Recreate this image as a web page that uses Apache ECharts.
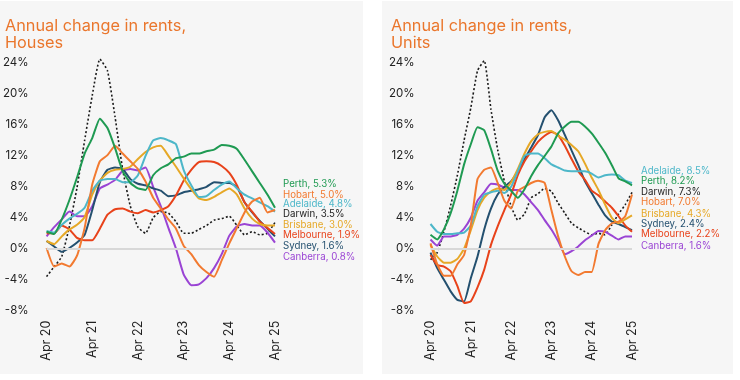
<!DOCTYPE html>
<html>
<head>
<meta charset="utf-8">
<script src="https://cdn.jsdelivr.net/npm/echarts@6/dist/echarts.min.js"></script>
<style>
html,body{margin:0;padding:0;background:#ffffff;}
#c{width:740px;height:380px;}
</style>
</head>
<body>
<div id="c"></div>
<script>
// Bi-monthly categories, Apr 2020 .. Apr 2025
const months = ['Apr','Jun','Aug','Oct','Dec','Feb'];
const categories = [];
for (let y = 20; y <= 25; y++) {
  for (let i = 0; i < 6; i++) {
    if (y === 25 && i > 0) break;
    categories.push(months[i] + ' ' + (i === 5 ? y + 1 : y));
  }
}
const yTicks = [-8, -4, 0, 4, 8, 12, 16, 20, 24];

// Houses: annual change in rents (%)
const housesPerth     = [2.2,1.9,3.8,6.3,9.2,12.3,14.3,16.8,15.6,13.0,10.0,8.5,7.8,7.6,9.5,10.4,10.9,11.7,11.9,12.3,12.3,12.6,12.8,13.4,13.3,12.9,11.5,10.0,8.5,7.0,5.3];
const housesHobart    = [0.1,-2.3,-1.9,-2.3,-0.9,2.7,8.3,11.3,12.1,13.3,12.3,11.3,10.3,8.7,6.6,5.2,3.8,2.6,0.4,-0.7,-2.1,-3.0,-3.6,-1.5,0.7,2.7,4.7,6.1,6.6,4.7,5.0];
const housesAdelaide  = [2.3,2.1,3.1,3.9,4.5,5.3,7.5,8.8,9.0,9.0,8.6,8.6,9.5,12.0,14.0,14.3,14.0,13.5,10.2,8.2,6.7,6.8,7.6,8.3,8.7,7.8,7.0,6.5,6.0,5.5,4.8];
const housesDarwin    = [-3.6,-2.3,-1.0,2.9,7.9,14.0,19.8,24.5,23.0,17.0,10.2,5.5,2.8,2.0,4.0,4.8,4.6,3.5,2.0,2.0,2.5,3.0,3.7,3.9,4.2,3.0,1.8,2.2,1.8,2.0,3.4];
const housesBrisbane  = [1.0,0.6,1.6,2.5,3.1,4.1,7.0,8.8,9.8,10.2,10.3,10.6,11.6,12.5,13.1,13.3,12.0,10.6,9.1,7.7,6.5,6.3,6.7,7.3,7.8,7.0,5.2,3.9,3.2,3.0,3.0];
const housesMelbourne = [2.0,2.0,3.0,2.5,1.4,1.1,1.1,2.6,4.4,5.1,5.2,4.8,4.6,5.0,4.7,5.0,5.5,6.9,8.8,10.2,11.2,11.3,11.2,10.7,9.8,8.2,6.0,4.8,3.5,2.7,1.9];
const housesSydney    = [1.0,0.3,-0.4,0.1,0.8,1.8,5.0,8.6,10.2,10.5,10.3,9.0,8.4,8.2,7.8,7.5,6.8,6.9,7.3,7.5,7.7,8.0,8.6,8.5,8.5,8.0,6.0,4.7,3.6,2.6,1.6];
const housesCanberra  = [1.6,2.8,3.8,4.8,4.2,4.2,5.5,7.8,8.3,8.9,10.1,10.3,10.1,10.5,8.0,5.5,2.7,0.0,-3.3,-4.7,-4.6,-3.8,-2.5,-0.7,1.7,2.9,3.2,3.0,3.0,2.1,0.8];

// Units: annual change in rents (%)
const unitsPerth     = [1.8,1.2,2.5,4.6,7.5,10.9,13.5,15.7,15.3,12.9,10.1,8.4,7.5,6.6,7.7,9.4,10.8,12.0,13.2,14.9,15.8,16.4,16.4,15.8,14.9,13.7,12.4,10.8,9.1,8.7,8.2];
const unitsHobart    = [0.7,-2.0,-3.5,-3.5,-2.0,-0.8,3.0,9.0,10.2,10.5,8.5,6.2,5.2,7.5,8.0,8.5,8.8,8.5,5.0,1.6,-1.0,-2.9,-3.4,-3.0,-3.0,0.6,2.4,3.3,3.5,4.2,7.0];
const unitsAdelaide  = [3.2,2.2,1.9,1.9,2.0,2.1,3.0,5.5,7.0,7.3,7.5,7.2,8.0,10.0,12.0,12.3,12.3,11.7,10.9,10.5,10.1,10.0,10.0,10.0,9.7,9.2,9.5,9.6,9.5,8.8,8.5];
const unitsDarwin    = [-1.4,-0.5,2.2,5.6,9.5,14.0,18.2,23.0,24.3,18.0,12.8,8.7,5.5,3.7,4.5,6.6,7.1,7.8,7.4,5.9,4.6,3.3,2.7,2.2,1.8,2.0,1.8,3.1,4.5,5.7,7.3];
const unitsBrisbane  = [0.5,-1.0,-1.8,-1.8,-1.3,0.0,2.4,5.0,6.6,7.4,7.8,7.6,8.6,10.3,12.3,13.9,14.8,15.1,15.2,14.6,14.1,13.4,12.6,11.0,9.2,7.6,5.7,4.0,3.3,3.8,4.3];
const unitsMelbourne = [-0.8,-2.1,-2.3,-2.9,-4.8,-7.0,-6.8,-5.0,-2.7,0.5,2.9,5.0,7.0,9.5,11.3,12.6,13.8,14.6,15.1,14.7,13.3,11.6,10.0,8.9,7.5,6.9,6.1,5.3,4.2,3.0,2.2];
const unitsSydney    = [-0.5,-2.5,-4.0,-5.5,-6.6,-6.8,-3.8,-1.0,2.5,5.2,7.0,8.0,8.7,10.0,11.6,13.1,14.7,17.0,17.9,16.6,14.7,12.7,10.8,8.7,7.2,5.7,4.3,3.5,3.2,2.8,2.4];
const unitsCanberra  = [1.2,0.4,1.6,1.6,1.8,2.6,4.0,6.2,7.3,8.4,8.3,7.9,7.6,7.6,7.0,6.0,5.0,3.7,2.5,1.0,-0.7,-0.3,0.3,1.1,1.7,2.3,2.2,1.7,1.2,1.6,1.6];

// End labels (text as printed)
const housesLabels = ['Perth, 5.3%','Hobart, 5.0%','Adelaide, 4.8%','Darwin, 3.5%','Brisbane, 3.0%','Melbourne, 1.9%','Sydney, 1.6%','Canberra, 0.8%'];
const housesLabelCities = ['Perth','Hobart','Adelaide','Darwin','Brisbane','Melbourne','Sydney','Canberra'];
const unitsLabels = ['Adelaide, 8.5%','Perth, 8.2%','Darwin, 7.3%','Hobart, 7.0%','Brisbane, 4.3%','Sydney, 2.4%','Melbourne, 2.2%','Canberra, 1.6%'];
const unitsLabelCities = ['Adelaide','Perth','Darwin','Hobart','Brisbane','Sydney','Melbourne','Canberra'];

const colors = {
  Perth: '#1f9a52', Hobart: '#f27a30', Adelaide: '#4db7c9', Darwin: '#1a1a1a',
  Brisbane: '#e6a826', Melbourne: '#e8421a', Sydney: '#24506f', Canberra: '#9a44d4'
};
const houses = {Perth:housesPerth,Hobart:housesHobart,Adelaide:housesAdelaide,Darwin:housesDarwin,Brisbane:housesBrisbane,Melbourne:housesMelbourne,Sydney:housesSydney,Canberra:housesCanberra};
const units = {Perth:unitsPerth,Hobart:unitsHobart,Adelaide:unitsAdelaide,Darwin:unitsDarwin,Brisbane:unitsBrisbane,Melbourne:unitsMelbourne,Sydney:unitsSydney,Canberra:unitsCanberra};

const FONT = 'Inter, "Open Sans", sans-serif';
const TITLE_COLOR = '#ea762c';
const drawOrder = ['Darwin','Canberra','Sydney','Melbourne','Brisbane','Adelaide','Hobart','Perth'];

function axes(idx) {
  return {
    x: {
      type: 'category', gridIndex: idx, data: categories, boundaryGap: false,
      axisLine: {show: false}, axisTick: {show: false},
      axisLabel: {
        interval: 5, rotate: 90, margin: 10, fontSize: 12.5, color: '#222',
        fontFamily: FONT
      },
      splitLine: {show: false}
    },
    y: {
      type: 'value', gridIndex: idx, min: -8, max: 26, interval: 4,
      axisLine: {show: false}, axisTick: {show: false}, splitLine: {show: false},
      axisLabel: {
        margin: idx === 0 ? 18 : 16, fontSize: 11.5, color: '#222', fontFamily: FONT,
        showMaxLabel: false,
        formatter: v => yTicks.indexOf(v) >= 0 ? v + '%' : ''
      }
    }
  };
}

const a0 = axes(0), a1 = axes(1);
const series = [];
[houses, units].forEach((set, gi) => {
  series.push({
    type: 'line', xAxisIndex: gi, yAxisIndex: gi, data: [], silent: true, z: 1,
    markLine: {
      silent: true, symbol: ['none','none'], label: {show: false},
      lineStyle: {color: '#d8d8d8', width: 2, type: 'solid'},
      data: [{yAxis: 0}], animation: false
    }
  });
  drawOrder.forEach(c => {
    const dotted = c === 'Darwin';
    series.push({
      name: c, type: 'line', xAxisIndex: gi, yAxisIndex: gi,
      data: set[c], showSymbol: false, smooth: 0.15, z: 2,
      lineStyle: {color: colors[c], width: dotted ? 1.6 : 2, type: dotted ? [2, 2.2] : 'solid'},
      itemStyle: {color: colors[c]}, animation: false, clip: false
    });
  });
});

const graphics = [
  {type: 'rect', shape: {x: 0, y: 1, width: 363, height: 373}, style: {fill: '#f6f6f6'}, z: -10, silent: true},
  {type: 'rect', shape: {x: 382, y: 1, width: 351, height: 373}, style: {fill: '#f6f6f6'}, z: -10, silent: true}
];
const hY = [184, 194.6, 204.5, 214.5, 225, 235.2, 245.6, 257];
housesLabels.forEach((t, i) => graphics.push({
  type: 'text', x: 283, y: hY[i], z: 10, silent: true,
  style: {text: t, fill: colors[housesLabelCities[i]], font: '9.7px ' + FONT, verticalAlign: 'middle'}
}));
const uY = [171.5, 181, 192.3, 202.3, 214, 224.3, 234.2, 246.5];
unitsLabels.forEach((t, i) => graphics.push({
  type: 'text', x: 641, y: uY[i], z: 10, silent: true,
  style: {text: t, fill: colors[unitsLabelCities[i]], font: '9.7px ' + FONT, verticalAlign: 'middle'}
}));

const chart = echarts.init(document.getElementById('c'), null, {renderer: 'canvas'});
chart.setOption({
  animation: false,
  backgroundColor: '#ffffff',
  title: [
    {text: 'Annual change in rents,\nHouses', left: 5, top: 18, padding: 0,
     textStyle: {color: TITLE_COLOR, fontSize: 16.3, fontWeight: 'normal', lineHeight: 17, fontFamily: FONT}},
    {text: 'Annual change in rents,\nUnits', left: 391, top: 18, padding: 0,
     textStyle: {color: TITLE_COLOR, fontSize: 16.3, fontWeight: 'normal', lineHeight: 17, fontFamily: FONT}}
  ],
  grid: [
    {left: 45, width: 230, top: 47.5, height: 263.2, containLabel: false},
    {left: 430.5, width: 201.5, top: 47.5, height: 263.2, containLabel: false}
  ],
  xAxis: [a0.x, a1.x],
  yAxis: [a0.y, a1.y],
  series: series,
  graphic: graphics
});
</script>
</body>
</html>
